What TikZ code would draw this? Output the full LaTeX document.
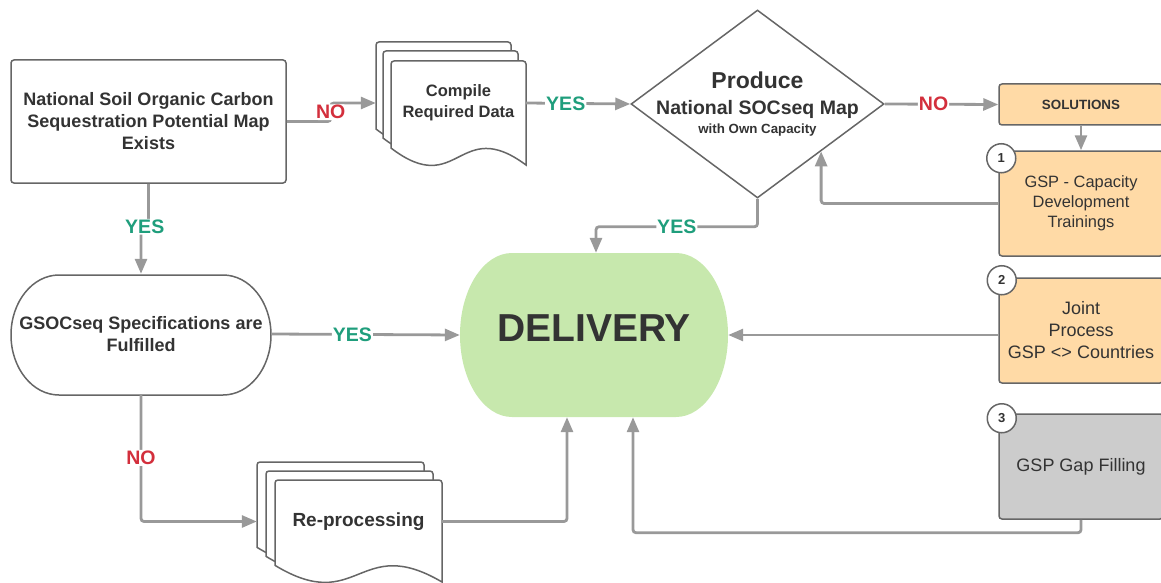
\documentclass[tikz,border=0pt]{standalone}
\usepackage{fontspec}
\setmainfont{Liberation Sans}
\usetikzlibrary{arrows.meta,shapes.geometric,calc}

\definecolor{txtgray}{HTML}{333333}
\definecolor{linegray}{HTML}{999999}
\definecolor{edgegray}{HTML}{666666}
\definecolor{yesgreen}{HTML}{1F9E7C}
\definecolor{nored}{HTML}{D32F3C}
\definecolor{solorange}{HTML}{FFDAA6}
\definecolor{delivgreen}{HTML}{C7E8AD}
\definecolor{gapgray}{HTML}{CCCCCC}

\newcommand{\fsz}[2]{\fontsize{#1}{#2}\selectfont}

% document sheet: x, y, width, height
\newcommand{\docsheet}[4]{%
  \draw[sheet] (#1,{#2+0.837*#4}) [rounded corners=3pt] -- (#1,#2) -- ({#1+#3},#2) [sharp corners]
    -- ({#1+#3},{#2+#4}) .. controls ({#1+0.5*#3},{#2+0.518*#4}) and ({#1+0.5*#3},{#2+1.333*#4}) .. (#1,{#2+0.837*#4}) -- cycle;}

\begin{document}
\begin{tikzpicture}[x=1pt, y=-1pt,
  box/.style={draw=edgegray, line width=1.5pt, rounded corners=3pt, align=center, text=txtgray, inner sep=0pt},
  solbox/.style={box, fill=solorange, minimum width=164, minimum height=105},
  numcirc/.style={circle, draw=edgegray, line width=1.5pt, fill=white, minimum size=29, inner sep=0pt, text=txtgray, font=\bfseries\fsz{13}{13}},
  sheet/.style={draw=edgegray, line width=1.5pt, fill=white},
  plain/.style={align=center, text=txtgray, inner sep=0pt},
  flow/.style={draw=linegray, line width=2.8pt, rounded corners=3pt, -{Triangle[length=15pt,width=12pt]}},
  lbl/.style={fill=white, inner sep=1pt, font=\bfseries\fsz{19.5}{20}},
  yeslbl/.style={lbl, text=yesgreen},
  nolbl/.style={lbl, text=nored}]

  \useasboundingbox (0,0) rectangle (1161,583);
  \clip (0,0) rectangle (1161,583);

  % Start box
  \node (natmap) [box, fill=white, minimum width=275, minimum height=123, font=\bfseries\fsz{18}{22}] at (148.5,121.5)
    {National Soil Organic Carbon\\Sequestration Potential Map\\Exists};

  % Compile stack
  \foreach \sx/\sy in {376/42, 383/51, 391/61}
    \docsheet{\sx}{\sy}{135}{104};
  \node (compile) [plain, font=\bfseries\fsz{16.5}{21}, minimum width=135, minimum height=84] at (458.5,103) {Compile\\Required Data};

  % Decision
  \node (produce) [diamond, draw=edgegray, line width=1.5pt, fill=white, minimum width=253, minimum height=188, inner sep=0pt] at (757.5,104) {};
  \node (prodtitle) [plain, anchor=base, font=\bfseries\fsz{23}{26}] at (757.5,89) {Produce};
  \node (prodmap) [plain, anchor=base, font=\bfseries\fsz{19.5}{22}] at (757.5,115) {National SOCseq Map};
  \node (prodcap) [plain, anchor=base, font=\bfseries\fsz{13.3}{15}] at (757.5,133) {with Own Capacity};

  % Solutions column
  \node (sol) [box, fill=solorange, minimum width=164, minimum height=41, font=\bfseries\fsz{13.4}{16}] at (1081,104.5) {SOLUTIONS};
  \node (cap) [solbox, font=\fsz{16.4}{20}] at (1081,203.5) {GSP - Capacity\\Development\\Trainings};
  \node (joint) [solbox, font=\fsz{18}{22}] at (1081,330.5) {Joint\\Process\\GSP <> Countries};
  \node (gap) [solbox, fill=gapgray, font=\fsz{18}{22}] at (1081,466.5) {GSP Gap Filling};
  \node (num1) [numcirc] at ([shift={(3,8)}]cap.north west) {1};
  \node (num2) [numcirc] at ([shift={(3.5,3)}]joint.north west) {2};
  \node (num3) [numcirc] at ([shift={(3.5,5)}]gap.north west) {3};

  % Specifications terminal
  \draw[draw=edgegray, line width=1.5pt, fill=white] (59,275) -- (223,275)
    arc[start angle=90, end angle=-90, x radius=48pt, y radius=60pt] -- (59,395)
    arc[start angle=270, end angle=90, x radius=48pt, y radius=60pt] -- cycle;
  \node (gsoc) [plain, font=\bfseries\fsz{18}{22}, minimum width=260, minimum height=120] at (141,334) {GSOCseq Specifications are\\Fulfilled};

  % Delivery
  \fill[delivgreen] (512,253) -- (676,253)
    arc[start angle=90, end angle=-90, x radius=52pt, y radius=82pt] -- (512,417)
    arc[start angle=270, end angle=90, x radius=52pt, y radius=82pt] -- cycle;
  \node (deliv) [minimum width=268, minimum height=164, inner sep=0pt] at (594,335) {};
  \node (delivtxt) [plain, font=\bfseries\fsz{39}{40}] at (594,328) {DELIVERY};

  % Re-processing stack
  \foreach \sx/\sy in {257/462, 266/471, 275/480}
    \docsheet{\sx}{\sy}{167}{102};
  \node (reproc) [plain, font=\bfseries\fsz{19}{22}, minimum width=167, minimum height=83] at (358.5,521.5) {Re-processing};

  % Connectors
  \draw[flow] (natmap.east) -- ++(44,0) |- node[nolbl, pos=0.25] {NO} ([xshift=-15]compile.west);
  \draw[flow] (compile.east) -- node[yeslbl, pos=0.38] {YES} (produce.west);
  \draw[flow] (produce.east) -- node[nolbl, pos=0.43] {NO} (sol.west);
  \draw[flow] (sol.south) -- (cap.north);
  \draw[flow] (cap.west) -| (produce.south east);
  \draw[flow] (produce.south) -- ++(0,28) -| node[yeslbl, pos=0.25] {YES} ([xshift=2]deliv.north);
  \draw[flow] (natmap.south) -- ++(0,43) -| node[yeslbl, pos=0.25] {YES} (gsoc.north);
  \draw[flow] (gsoc.east) -- node[yeslbl, pos=0.43] {YES} (deliv.west);
  \draw[flow] (gsoc.south) |- node[nolbl, pos=0.25] {NO} ([xshift=-18]reproc.west);
  \draw[flow] (reproc.east) -| ([xshift=-27]deliv.south);
  \draw[flow] (joint.west |- deliv.east) -- (deliv.east);
  \draw[flow] (gap.south) -- ++(0,13) -| ([xshift=39]deliv.south);

\end{tikzpicture}
\end{document}
